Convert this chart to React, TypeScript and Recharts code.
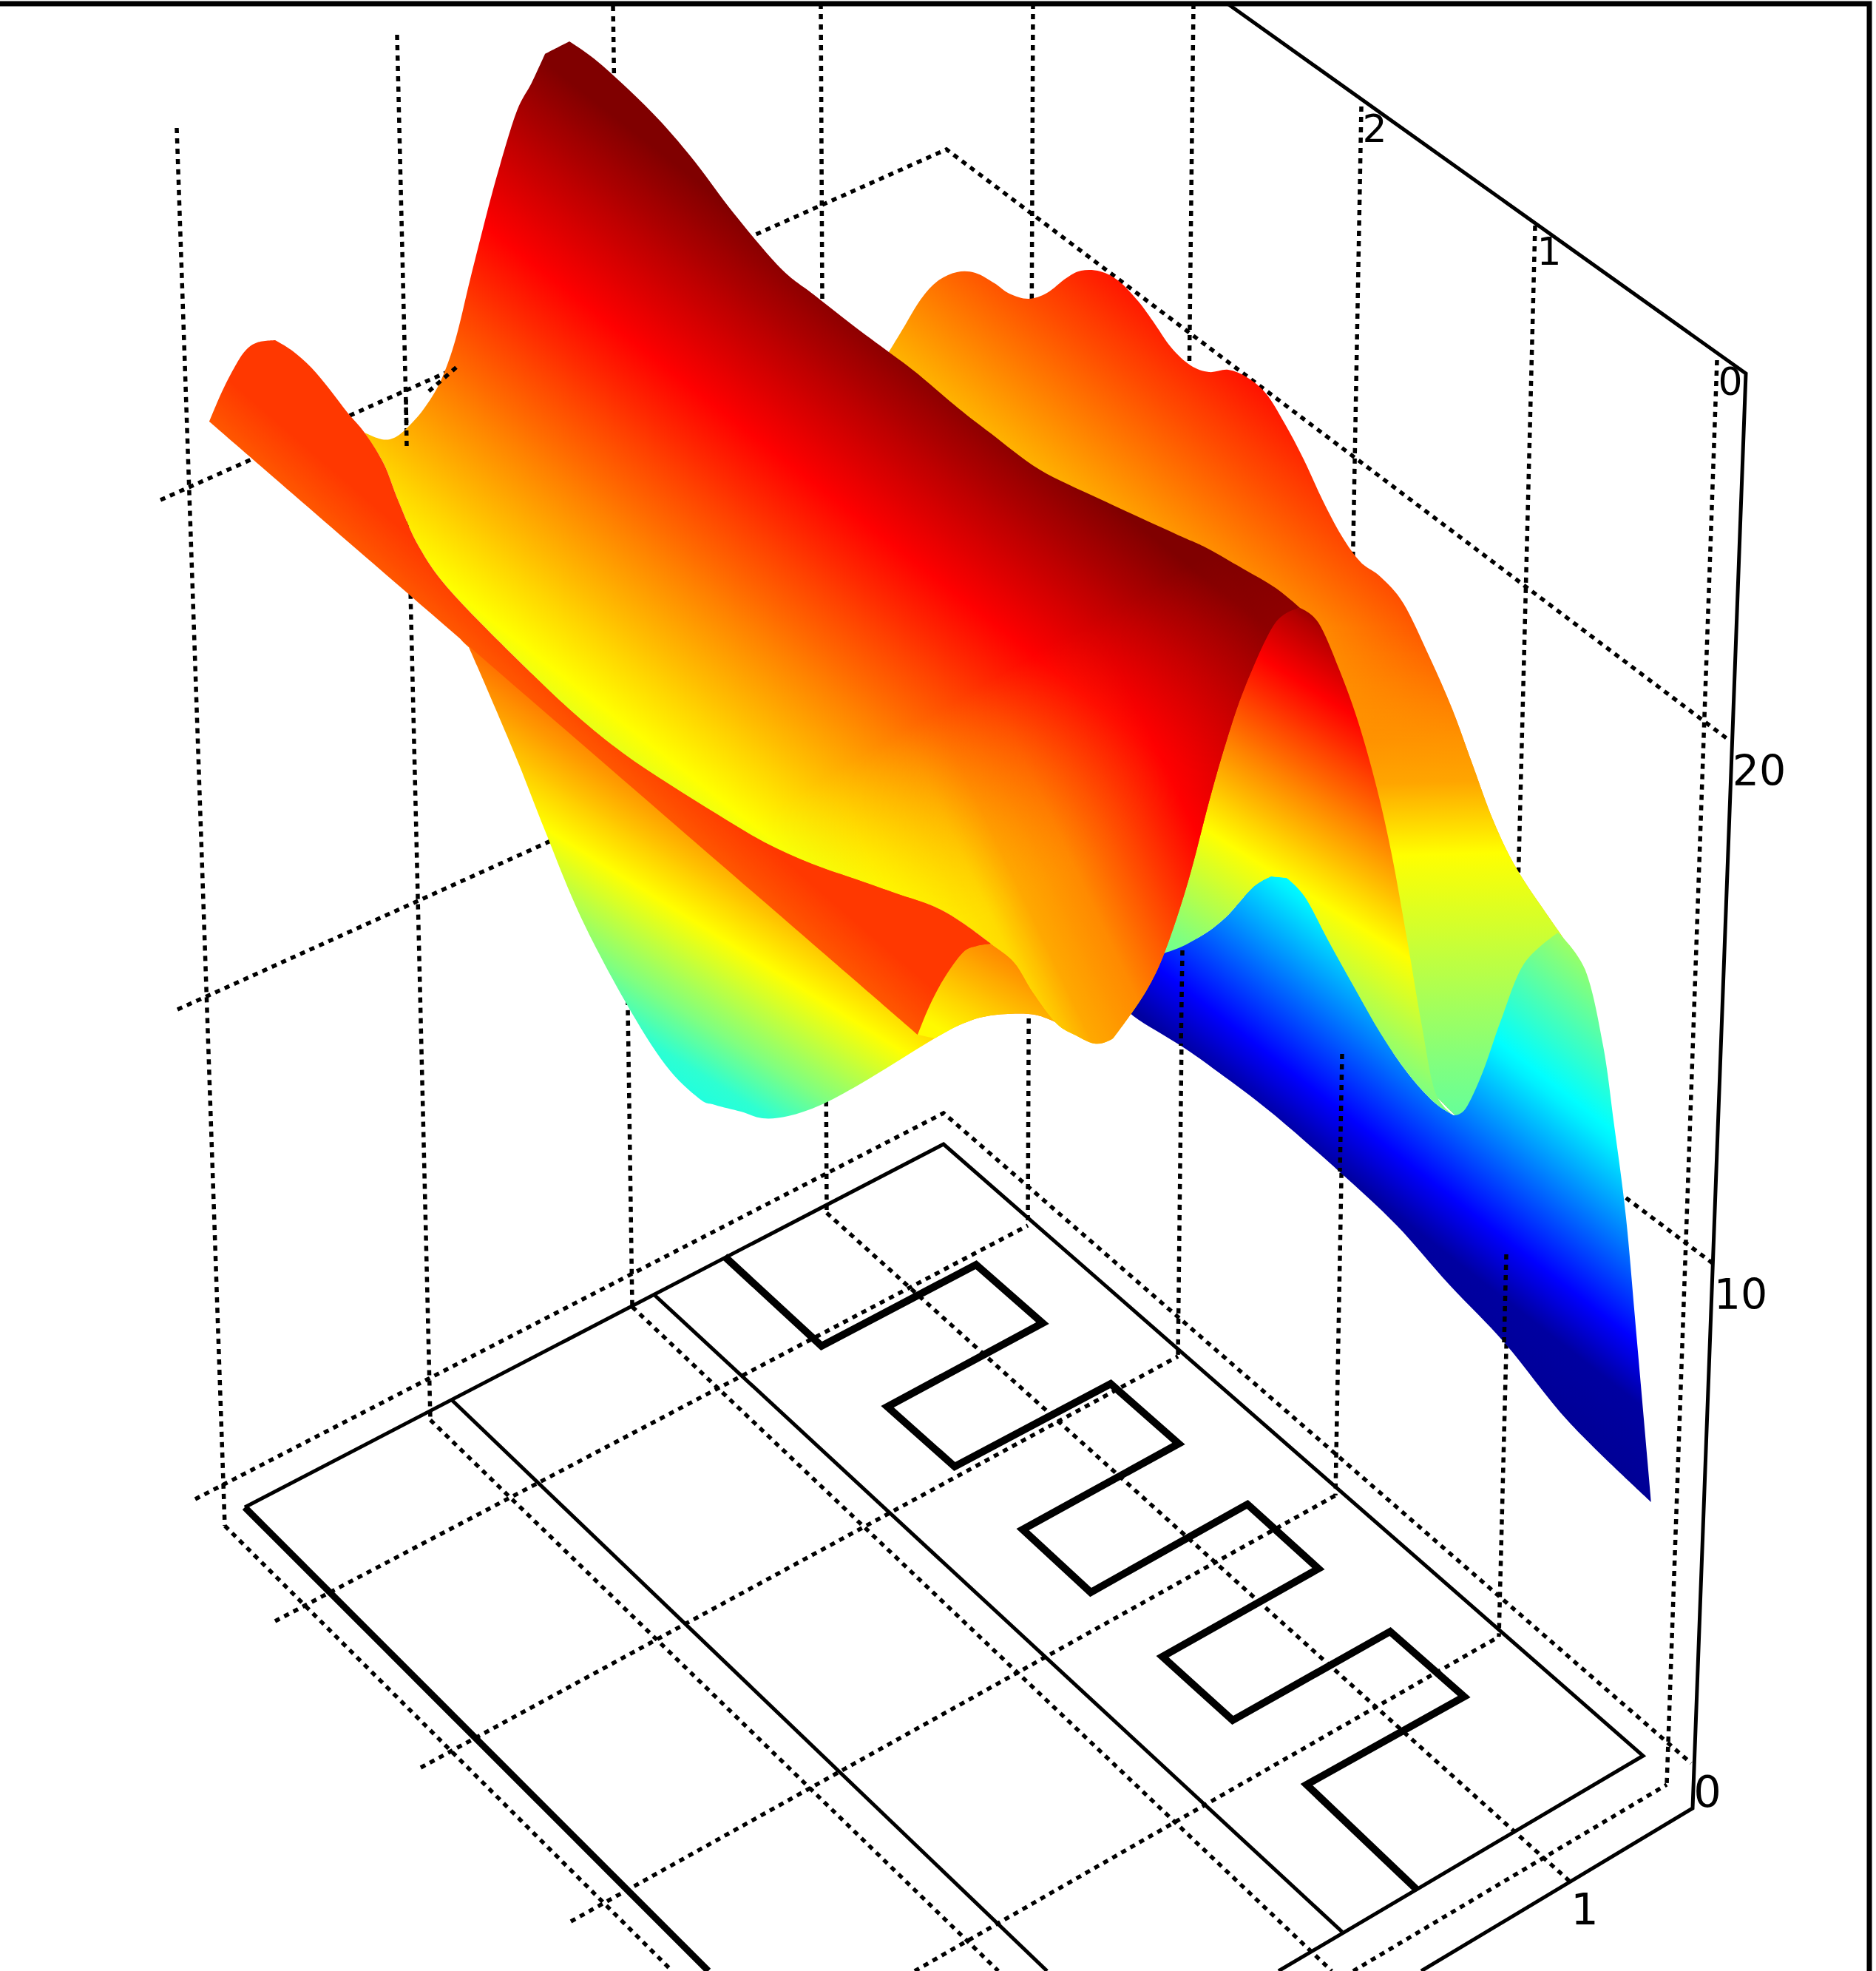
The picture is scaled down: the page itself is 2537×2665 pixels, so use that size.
import React from 'react';
import { ScatterChart, Scatter, XAxis, YAxis } from 'recharts';

type Pt = [number, number];

const W = 2537;
const H = 2665;

// outlines of the surface sheets
const backSheet: Pt[] = [[1202,476],[1222,443],[1245,405],[1268,380],[1294,368],[1319,369],[1345,383],[1365,397],[1391,404],[1416,396],[1442,376],[1462,366],[1488,367],[1513,380],[1539,407],[1559,434],[1584,470],[1610,494],[1635,503],[1661,500],[1686,510],[1712,532],[1737,572],[1763,621],[1788,675],[1814,724],[1840,760],[1867,780],[1898,816],[1933,888],[1964,959],[1990,1030],[2020,1111],[2053,1178],[2107,1258],[2144,1312],[2000,1540],[1500,1000]];
const blueSheet: Pt[] = [[1500,1340],[1576,1288],[1622,1267],[1658,1240],[1694,1200],[1719,1185],[1740,1187],[1765,1213],[1796,1271],[1831,1334],[1867,1397],[1903,1450],[1939,1490],[1966,1508],[1982,1499],[2005,1450],[2030,1379],[2061,1303],[2107,1261],[2144,1312],[2168,1414],[2183,1522],[2199,1647],[2214,1816],[2233,2031],[2122,1923],[2035,1816],[1959,1736],[1888,1656],[1811,1584],[1719,1504],[1648,1450],[1597,1414],[1533,1374]];
const midSheet: Pt[] = [[1700,830],[1758,822],[1783,842],[1811,905],[1837,977],[1862,1066],[1882,1155],[1903,1271],[1923,1388],[1941,1477],[1966,1508],[1939,1490],[1903,1450],[1867,1397],[1831,1334],[1796,1271],[1765,1213],[1740,1187],[1719,1185],[1694,1200],[1658,1240],[1622,1267],[1576,1288],[1500,1300]];
const lowerSheet: Pt[] = [[634,875],[645,900],[670,958],[702,1034],[737,1123],[785,1239],[846,1355],[900,1440],[945,1485],[967,1494],[1002,1503],[1031,1512],[1066,1509],[1110,1494],[1161,1467],[1212,1436],[1264,1404],[1302,1384],[1340,1373],[1391,1371],[1423,1380],[1449,1396],[1340,1276],[700,900]];
const foldSheet: Pt[] = [[1241,1399],[1257,1360],[1276,1324],[1302,1288],[1321,1279],[1340,1276],[1372,1302],[1397,1342],[1429,1384],[1449,1396],[1423,1380],[1391,1371],[1340,1373],[1302,1384],[1264,1404]];
const mainSheet: Pt[] = [[516,594],[533,592],[550,579],[573,553],[596,515],[616,459],[636,377],[659,286],[676,224],[699,150],[719,112],[737,73],[770,56],[803,79],[849,120],[895,166],[940,219],[992,288],[1055,362],[1100,398],[1151,438],[1202,476],[1238,503],[1296,552],[1340,586],[1406,635],[1488,675],[1590,722],[1630,740],[1681,769],[1725,795],[1758,822],[1724,843],[1684,928],[1658,1004],[1635,1084],[1607,1191],[1576,1285],[1550,1340],[1512,1395],[1500,1407],[1480,1411],[1455,1400],[1429,1384],[1397,1342],[1372,1302],[1340,1276],[1302,1248],[1264,1226],[1212,1208],[1161,1190],[1098,1168],[1034,1139],[970,1101],[906,1061],[842,1018],[779,967],[708,900],[610,800],[567,740],[539,678],[519,627],[493,585]];
const frontSheet: Pt[] = [[283,570],[300,530],[318,495],[332,474],[348,463],[372,460],[395,474],[421,497],[447,528],[470,558],[493,585],[519,627],[539,678],[567,740],[610,800],[708,900],[779,967],[842,1018],[906,1061],[970,1101],[1034,1139],[1098,1168],[1161,1190],[1212,1208],[1264,1226],[1302,1248],[1340,1276],[1321,1279],[1302,1288],[1276,1324],[1257,1360],[1241,1399]];

// dotted box and grid lines
const dottedLines: Pt[][] = [
  [[239,173],[304,2063]],
  [[537,47],[582,1920]],
  [[829,8],[855,1767]],
  [[1110,5],[1118,1640]],
  [[1397,5],[1390,1657]],
  [[1614,5],[1593,1834]],
  [[1841,144],[1806,2022]],
  [[2076,305],[2027,2213]],
  [[2322,487],[2254,2413]],
  [[217,676],[1280,202],[2340,1002]],
  [[240,1365],[1254,907],[2316,1708]],
  [[264,2027],[1276,1505],[2287,2384]],
  [[372,2192],[1390,1657]],
  [[569,2390],[1593,1834]],
  [[772,2598],[1806,2022]],
  [[1237,2665],[2027,2213]],
  [[1830,2665],[2254,2413]],
  [[304,2063],[909,2665]],
  [[582,1920],[1350,2665]],
  [[855,1767],[1801,2665]],
  [[1118,1640],[2122,2543]],
];
// pieces of grid line that the original draws over the surface
const dottedOver: Pt[][] = [
  [[549,540],[550,604]],
  [[580,529],[619,495]],
  [[1599,1285],[1597,1414]],
  [[1815,1425],[1812,1584]],
  [[2037,1696],[2034,1816]],
];
const axisLines: Pt[][] = [
  [[1660,5],[2361,505],[2289,2445],[1922,2665]],
  [[331,2038],[1276,1547],[2222,2374],[1729,2665]],
  [[610,1892],[1416,2665]],
  [[884,1750],[1815,2612]],
];
const frameLine: Pt[] = [[0,5],[2528,5],[2528,2665]];
const floorEdge: Pt[] = [[331,2038],[958,2665]];
const zigzag: Pt[] = [[980,1699],[1111,1820],[1320,1710],[1410,1789],[1200,1902],[1291,1983],[1502,1871],[1594,1952],[1383,2068],[1475,2153],[1687,2034],[1783,2121],[1572,2240],[1667,2326],[1880,2206],[1980,2294],[1767,2413],[1915,2554]];

const backTicks = [
  { x: 1859, y: 174, label: '2' },
  { x: 2095, y: 340, label: '1' },
  { x: 2340, y: 516, label: '0' },
];
const heightTicks = [
  { x: 2379, y: 1042, label: '20' },
  { x: 2354, y: 1750, label: '10' },
];
const floorTicks = [
  { x: 2309, y: 2422, label: '0' },
  { x: 2143, y: 2581, label: '1' },
];

const toData = (pts: Pt[]) => pts.map(([x, y]) => ({ x, y }));

const JET: [number, number[]][] = [
  [0, [0, 0, 143]],
  [0.125, [0, 0, 255]],
  [0.375, [0, 255, 255]],
  [0.625, [255, 255, 0]],
  [0.875, [255, 0, 0]],
  [1, [128, 0, 0]],
];

function jet(level: number) {
  const v = Math.min(1, Math.max(0, level));
  for (let i = 1; i < JET.length; i++) {
    if (v <= JET[i][0]) {
      const [a, ca] = JET[i - 1];
      const [b, cb] = JET[i];
      const f = (v - a) / (b - a);
      const c = ca.map((n, k) => Math.round(n + (cb[k] - n) * f));
      return `rgb(${c[0]},${c[1]},${c[2]})`;
    }
  }
  return 'rgb(128,0,0)';
}

// linear gradient given by an origin, a direction and [distance, jet level] pairs
function sheetGradient(id: string, o: Pt, d: Pt, stops: [number, number][]) {
  const t0 = stops[0][0];
  const t1 = stops[stops.length - 1][0];
  const out: React.ReactNode[] = [];
  stops.forEach(([t, lv], i) => {
    if (i === 0) return;
    const [pt, plv] = stops[i - 1];
    const steps = 12;
    for (let s = i === 1 ? 0 : 1; s <= steps; s++) {
      const f = s / steps;
      const tt = pt + (t - pt) * f;
      out.push(<stop key={`${i}-${s}`} offset={(tt - t0) / (t1 - t0)} stopColor={jet(plv + (lv - plv) * f)} />);
    }
  });
  return (
    <linearGradient
      id={id}
      gradientUnits="userSpaceOnUse"
      x1={o[0] + d[0] * t0}
      y1={o[1] + d[1] * t0}
      x2={o[0] + d[0] * t1}
      y2={o[1] + d[1] * t1}
    >
      {out}
    </linearGradient>
  );
}

function fadeMask(id: string, x1: number, y1: number, x2: number, y2: number) {
  return (
    <React.Fragment key={id}>
      <linearGradient id={`${id}Fade`} gradientUnits="userSpaceOnUse" x1={x1} y1={y1} x2={x2} y2={y2}>
        <stop offset={0} stopColor="#000" />
        <stop offset={1} stopColor="#fff" />
      </linearGradient>
      <mask id={id} maskUnits="userSpaceOnUse" x={0} y={0} width={W} height={H}>
        <rect x={0} y={0} width={W} height={H} fill={`url(#${id}Fade)`} />
      </mask>
    </React.Fragment>
  );
}

const noDot = () => <g />;

// closed path through the scaled points, smooth except at real corners
function smoothPath(pts: { x: number; y: number }[]) {
  const n = pts.length;
  const at = (i: number) => pts[(i + n) % n];
  const corner = (i: number) => {
    const a = at(i - 1);
    const b = at(i);
    const c = at(i + 1);
    const t = Math.atan2(c.y - b.y, c.x - b.x) - Math.atan2(b.y - a.y, b.x - a.x);
    return Math.abs(Math.atan2(Math.sin(t), Math.cos(t))) > 0.62;
  };
  let d = `M${pts[0].x} ${pts[0].y}`;
  for (let i = 0; i < n; i++) {
    const p0 = at(i - 1);
    const p1 = at(i);
    const p2 = at(i + 1);
    const p3 = at(i + 2);
    const c1 = corner(i) ? p1 : { x: p1.x + (p2.x - p0.x) / 6, y: p1.y + (p2.y - p0.y) / 6 };
    const c2 = corner(i + 1) ? p2 : { x: p2.x - (p3.x - p1.x) / 6, y: p2.y - (p3.y - p1.y) / 6 };
    d += ` C${c1.x} ${c1.y} ${c2.x} ${c2.y} ${p2.x} ${p2.y}`;
  }
  return d + 'Z';
}

function polygonLine(fill: string, mask?: string) {
  return (p: any) => <path d={smoothPath(p.points)} fill={fill} stroke="none" mask={mask} />;
}

function sheet(name: string, pts: Pt[], fill: string, mask?: string) {
  return (
    <Scatter
      key={name}
      name={name}
      data={toData(pts)}
      shape={noDot}
      line={polygonLine(fill, mask)}
      isAnimationActive={false}
    />
  );
}

function stroked(name: string, pts: Pt[], width: number, dash?: string) {
  return (
    <Scatter
      key={name}
      name={name}
      data={toData(pts)}
      shape={noDot}
      line={{ stroke: '#000', strokeWidth: width, strokeDasharray: dash, strokeLinejoin: 'miter' }}
      isAnimationActive={false}
    />
  );
}

const tickShape = (size: number) => (p: any) => (
  <text
    x={p.cx}
    y={p.cy}
    textAnchor="middle"
    dominantBaseline="central"
    fontFamily="DejaVu Sans"
    fontSize={size}
    fill="#000"
  >
    {p.payload.label}
  </text>
);

export default function App() {
  return (
    <div style={{ position: 'absolute', left: 0, top: 0, width: W, height: H, background: '#fff' }}>
      <ScatterChart width={W} height={H} margin={{ top: 0, right: 0, bottom: 0, left: 0 }}>
        <defs>
          {sheetGradient('gBack', [1462, 366], [-0.62, 0.78], [[-60, 0.875], [250, 0.7]])}
          {sheetGradient('gBackLow', [1950, 850], [0.03, 1], [[0, 0.777], [207, 0.713], [305, 0.625], [590, 0.5], [700, 0.46]])}
          {sheetGradient('gBlue', [1719, 1187], [-0.615, 0.788], [[-181, 0.53], [0, 0.36], [190, 0.125], [255, 0.02], [400, 0]])}
          {sheetGradient('gMid', [1755, 834], [-0.533, 0.846], [[-30, 1], [0, 0.95], [73, 0.875], [310, 0.625], [452, 0.5], [600, 0.42]])}
          {sheetGradient('gLower', [747, 1079], [-0.53, 0.85], [[-150, 0.8], [-60, 0.72], [40, 0.625], [150, 0.5], [210, 0.42], [300, 0.38]])}
          {sheetGradient('gFold', [1340, 1280], [-0.5, 0.87], [[0, 0.74], [130, 0.63]])}
          {sheetGradient('gMain', [1061, 622], [-0.615, 0.788], [[-225, 1], [0, 0.875], [415, 0.625], [510, 0.56]])}
          {sheetGradient('gMainLow', [1557, 998], [-0.9, 0.43], [[-200, 0.97], [0, 0.875], [170, 0.74], [250, 0.71], [300, 0.66], [364, 0.64], [500, 0.6]])}
          {sheetGradient('gFront', [283, 570], [0.654, -0.757], [[0, 0.79], [60, 0.82], [200, 0.82]])}
          {fadeMask('maskLow', 0, 850, 0, 1000)}
          {fadeMask('maskMain', 1200, 1000, 1340, 1240)}
        </defs>
        <XAxis type="number" dataKey="x" domain={[0, W]} hide />
        <YAxis type="number" dataKey="y" domain={[0, H]} reversed hide />

        {dottedLines.map((l, i) => stroked(`grid${i}`, l, 5.5, '7 7'))}
        {stroked('frame', frameLine, 7)}
        {axisLines.map((l, i) => stroked(`axis${i}`, l, 5))}
        {stroked('floorEdge', floorEdge, 9)}
        {stroked('zigzag', zigzag, 10)}

        {sheet('back', backSheet, 'url(#gBack)')}
        {sheet('backLow', backSheet, 'url(#gBackLow)', 'url(#maskLow)')}
        {sheet('blue', blueSheet, 'url(#gBlue)')}
        {sheet('mid', midSheet, 'url(#gMid)')}
        {sheet('lower', lowerSheet, 'url(#gLower)')}
        {sheet('fold', foldSheet, 'url(#gFold)')}
        {sheet('main', mainSheet, 'url(#gMain)')}
        {sheet('mainLow', mainSheet, 'url(#gMainLow)', 'url(#maskMain)')}
        {sheet('front', frontSheet, 'url(#gFront)')}

        {dottedOver.map((l, i) => stroked(`over${i}`, l, 5.5, '7 7'))}
        <Scatter name="backTicks" data={backTicks} shape={tickShape(52)} isAnimationActive={false} />
        <Scatter name="heightTicks" data={heightTicks} shape={tickShape(57)} isAnimationActive={false} />
        <Scatter name="floorTicks" data={floorTicks} shape={tickShape(59)} isAnimationActive={false} />
      </ScatterChart>
    </div>
  );
}
